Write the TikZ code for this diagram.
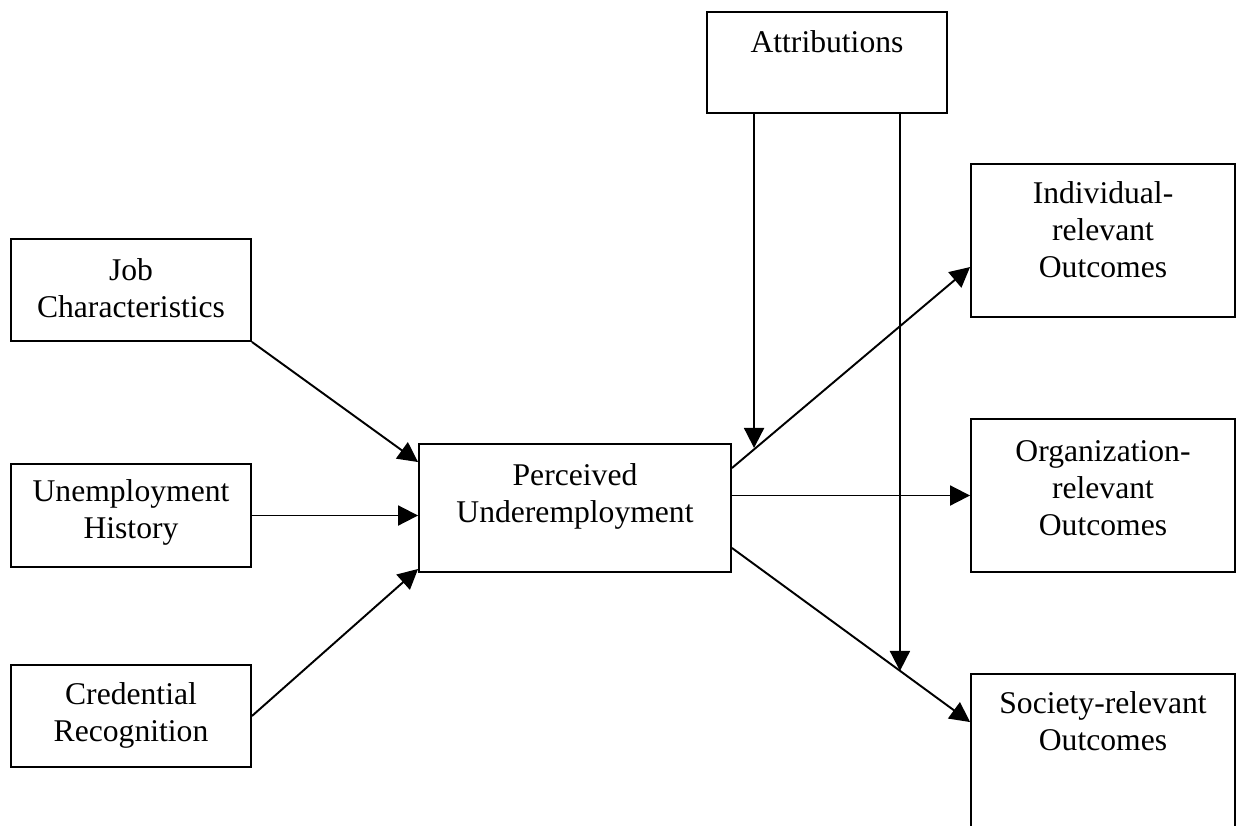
\documentclass[tikz,border=0pt]{standalone}
\usepackage{fontspec}
\setmainfont{Liberation Serif}
\usetikzlibrary{arrows.meta,calc}
\begin{document}
\begin{tikzpicture}[x=0.02cm,y=-0.02cm,
  box/.style={draw,line width=1.1pt,inner sep=0pt,minimum width=#1},
  lbl/.style={align=center,inner sep=0pt,anchor=base,font=\fontsize{18pt}{21pt}\selectfont},
  conn/.style={line width=1.1pt,-{Triangle[length=0.4cm,width=0.4cm]}},
  plain/.style={line width=1.1pt}]
\clip (0,0) rectangle (1244,825);
\fill[white] (0,0) rectangle (1244,825);
% boxes
\node[box=4.8cm,minimum height=2.02cm] (attr) at (827,62.5) {};
\node[box=4.8cm,minimum height=2.04cm] (job) at (131,290) {};
\node[box=4.8cm,minimum height=2.06cm] (unemp) at (131,515.5) {};
\node[box=4.8cm,minimum height=2.04cm] (cred) at (131,716) {};
\node[box=6.24cm,minimum height=2.56cm] (perc) at (575,508) {};
\node[box=5.28cm,minimum height=3.06cm] (indiv) at (1103,240.5) {};
\node[box=5.28cm,minimum height=3.06cm] (org) at (1103,495.5) {};
\node[box=5.28cm,minimum height=3.32cm] (soc) at (1103,757) {};
% texts (anchor = baseline of the last line)
\node[lbl] (tattr) at (827,52) {Attributions};
\node[lbl] (tjob) at (131,317) {Job\\Characteristics};
\node[lbl] (tunemp) at (131,538) {Unemployment\\History};
\node[lbl] (tcred) at (131,741) {Credential\\Recognition};
\node[lbl] (tperc) at (575,522) {Perceived\\Underemployment};
\node[lbl] (tindiv) at (1103,277) {Individual-\\relevant\\Outcomes};
\node[lbl] (torg) at (1103,535) {Organization-\\relevant\\Outcomes};
\node[lbl] (tsoc) at (1103,750) {Society-relevant\\Outcomes};
% connectors
\draw[conn] (job.south east) -- ($(perc.north west)+(0,19)$);
\draw[conn] (unemp.east) -- (unemp.east -| perc.west);
\draw[conn] (cred.east) -- ($(perc.south west)+(0,-4)$);
\draw[conn] ($(perc.north east)+(0,25)$) -- ($(indiv.north west)+(0,104)$);
\draw[conn] (org.west -| perc.east) -- (org.west);
\draw[conn] ($(perc.south east)+(0,-25)$) -- ($(soc.north west)+(0,49)$);
\coordinate (a1) at ($(attr.south west)+(48,0)$);
\coordinate (a2) at ($(attr.south east)+(-48,0)$);
\coordinate (e1) at ($(a1)+(0,334)$);
\coordinate (e2) at ($(a2)+(0,557)$);
\draw[conn] (a1) -- (e1);
\draw[conn] (a2) -- (e2);
\end{tikzpicture}
\end{document}
